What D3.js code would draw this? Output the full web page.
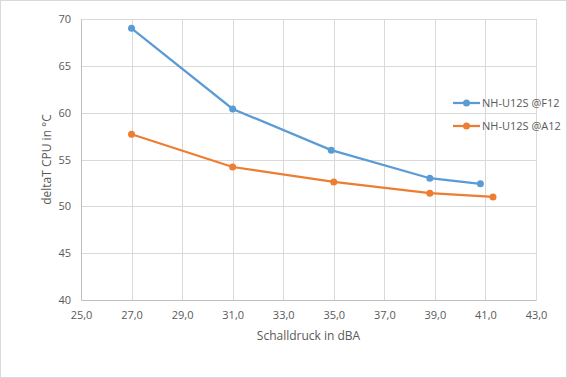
<!DOCTYPE html>
<style>
body { margin: 0; background: #fff; }
text { font-family: "Open Sans", sans-serif; fill: #595959; }
</style>
<svg width="567" height="378"></svg>
<script src="https://cdn.jsdelivr.net/npm/d3@7/dist/d3.min.js"></script>
<script>

var seriesNames = ["NH-U12S @F12", "NH-U12S @A12"];
var colors = ["#5B9BD5", "#ED7D31"];
var f12 = [[27.0, 69.0], [31.0, 60.4], [34.9, 56.0], [38.8, 53.0], [40.8, 52.4]];
var a12 = [[27.0, 57.7], [31.0, 54.2], [35.0, 52.6], [38.8, 51.4], [41.3, 51.0]];
var xTicks = [25, 27, 29, 31, 33, 35, 37, 39, 41, 43];
var yTicks = [40, 45, 50, 55, 60, 65, 70];

var svg = d3.select("svg"),
    margin = {top: 19, right: 31, bottom: 78, left: 81},
    width = 567 - margin.left - margin.right,
    height = 378 - margin.top - margin.bottom;

// outer frame
svg.append("rect")
    .attr("x", 0.5).attr("y", 0.5)
    .attr("width", 566).attr("height", 377)
    .attr("fill", "#fff").attr("stroke", "#d9d9d9");

var g = svg.append("g").attr("transform", "translate(" + margin.left + "," + margin.top + ")");

var x = d3.scaleLinear().domain([25, 43]).range([0, width]);
var y = d3.scaleLinear().domain([40, 70]).range([height, 0]);

// grid
g.selectAll(".vgrid").data(xTicks.slice(1)).enter().append("line")
    .attr("x1", function(d) { return Math.round(x(d)) + 0.5; })
    .attr("x2", function(d) { return Math.round(x(d)) + 0.5; })
    .attr("y1", 0).attr("y2", height)
    .attr("stroke", "#d9d9d9");
g.selectAll(".hgrid").data(yTicks.slice(1)).enter().append("line")
    .attr("y1", function(d) { return Math.round(y(d)) + 0.5; })
    .attr("y2", function(d) { return Math.round(y(d)) + 0.5; })
    .attr("x1", 0).attr("x2", width)
    .attr("stroke", "#d9d9d9");

// axes
g.append("g")
    .attr("transform", "translate(0," + height + ")")
    .call(d3.axisBottom(x).tickValues(xTicks).tickSize(0).tickPadding(11)
      .tickFormat(function(d) { return d3.format(".1f")(d).replace(".", ","); }))
    .call(function(a) {
      a.select(".domain").attr("stroke", "#bfbfbf");
      a.selectAll("text").attr("font-size", 11).attr("fill", "#595959");
    });

g.append("g")
    .call(d3.axisLeft(y).tickValues(yTicks).tickSize(0).tickPadding(10))
    .call(function(a) {
      a.select(".domain").attr("stroke", "#bfbfbf");
      a.selectAll("text").attr("font-size", 11).attr("fill", "#595959");
    });

// axis titles
svg.append("text")
    .attr("x", margin.left + width / 2)
    .attr("y", 340)
    .attr("text-anchor", "middle")
    .attr("font-size", 12)
    .text("Schalldruck in dBA");

svg.append("text")
    .attr("transform", "translate(51," + (margin.top + height / 2) + ") rotate(-90)")
    .attr("text-anchor", "middle")
    .attr("font-size", 12)
    .text("deltaT CPU in °C");

// lines
var line = d3.line()
    .x(function(d) { return x(d[0]); })
    .y(function(d) { return y(d[1]); });

[f12, a12].forEach(function(data, i) {
  g.append("path")
      .datum(data)
      .attr("fill", "none")
      .attr("stroke", colors[i])
      .attr("stroke-width", 2.25)
      .attr("d", line);
  g.selectAll(".pt" + i).data(data).enter().append("circle")
      .attr("cx", function(d) { return x(d[0]); })
      .attr("cy", function(d) { return y(d[1]); })
      .attr("r", 3.5)
      .attr("fill", colors[i]);
});

// legend
var legend = svg.selectAll(".legend").data(seriesNames).enter().append("g")
    .attr("transform", function(d, i) { return "translate(453," + (103 + i * 23) + ")"; });
legend.append("line")
    .attr("x1", 0).attr("x2", 27)
    .attr("stroke", function(d, i) { return colors[i]; })
    .attr("stroke-width", 2.25);
legend.append("circle")
    .attr("cx", 13.5).attr("r", 3.5)
    .attr("fill", function(d, i) { return colors[i]; });
legend.append("text")
    .attr("x", 29)
    .attr("dy", "0.35em")
    .attr("font-size", 11)
    .text(function(d) { return d; });

</script>
